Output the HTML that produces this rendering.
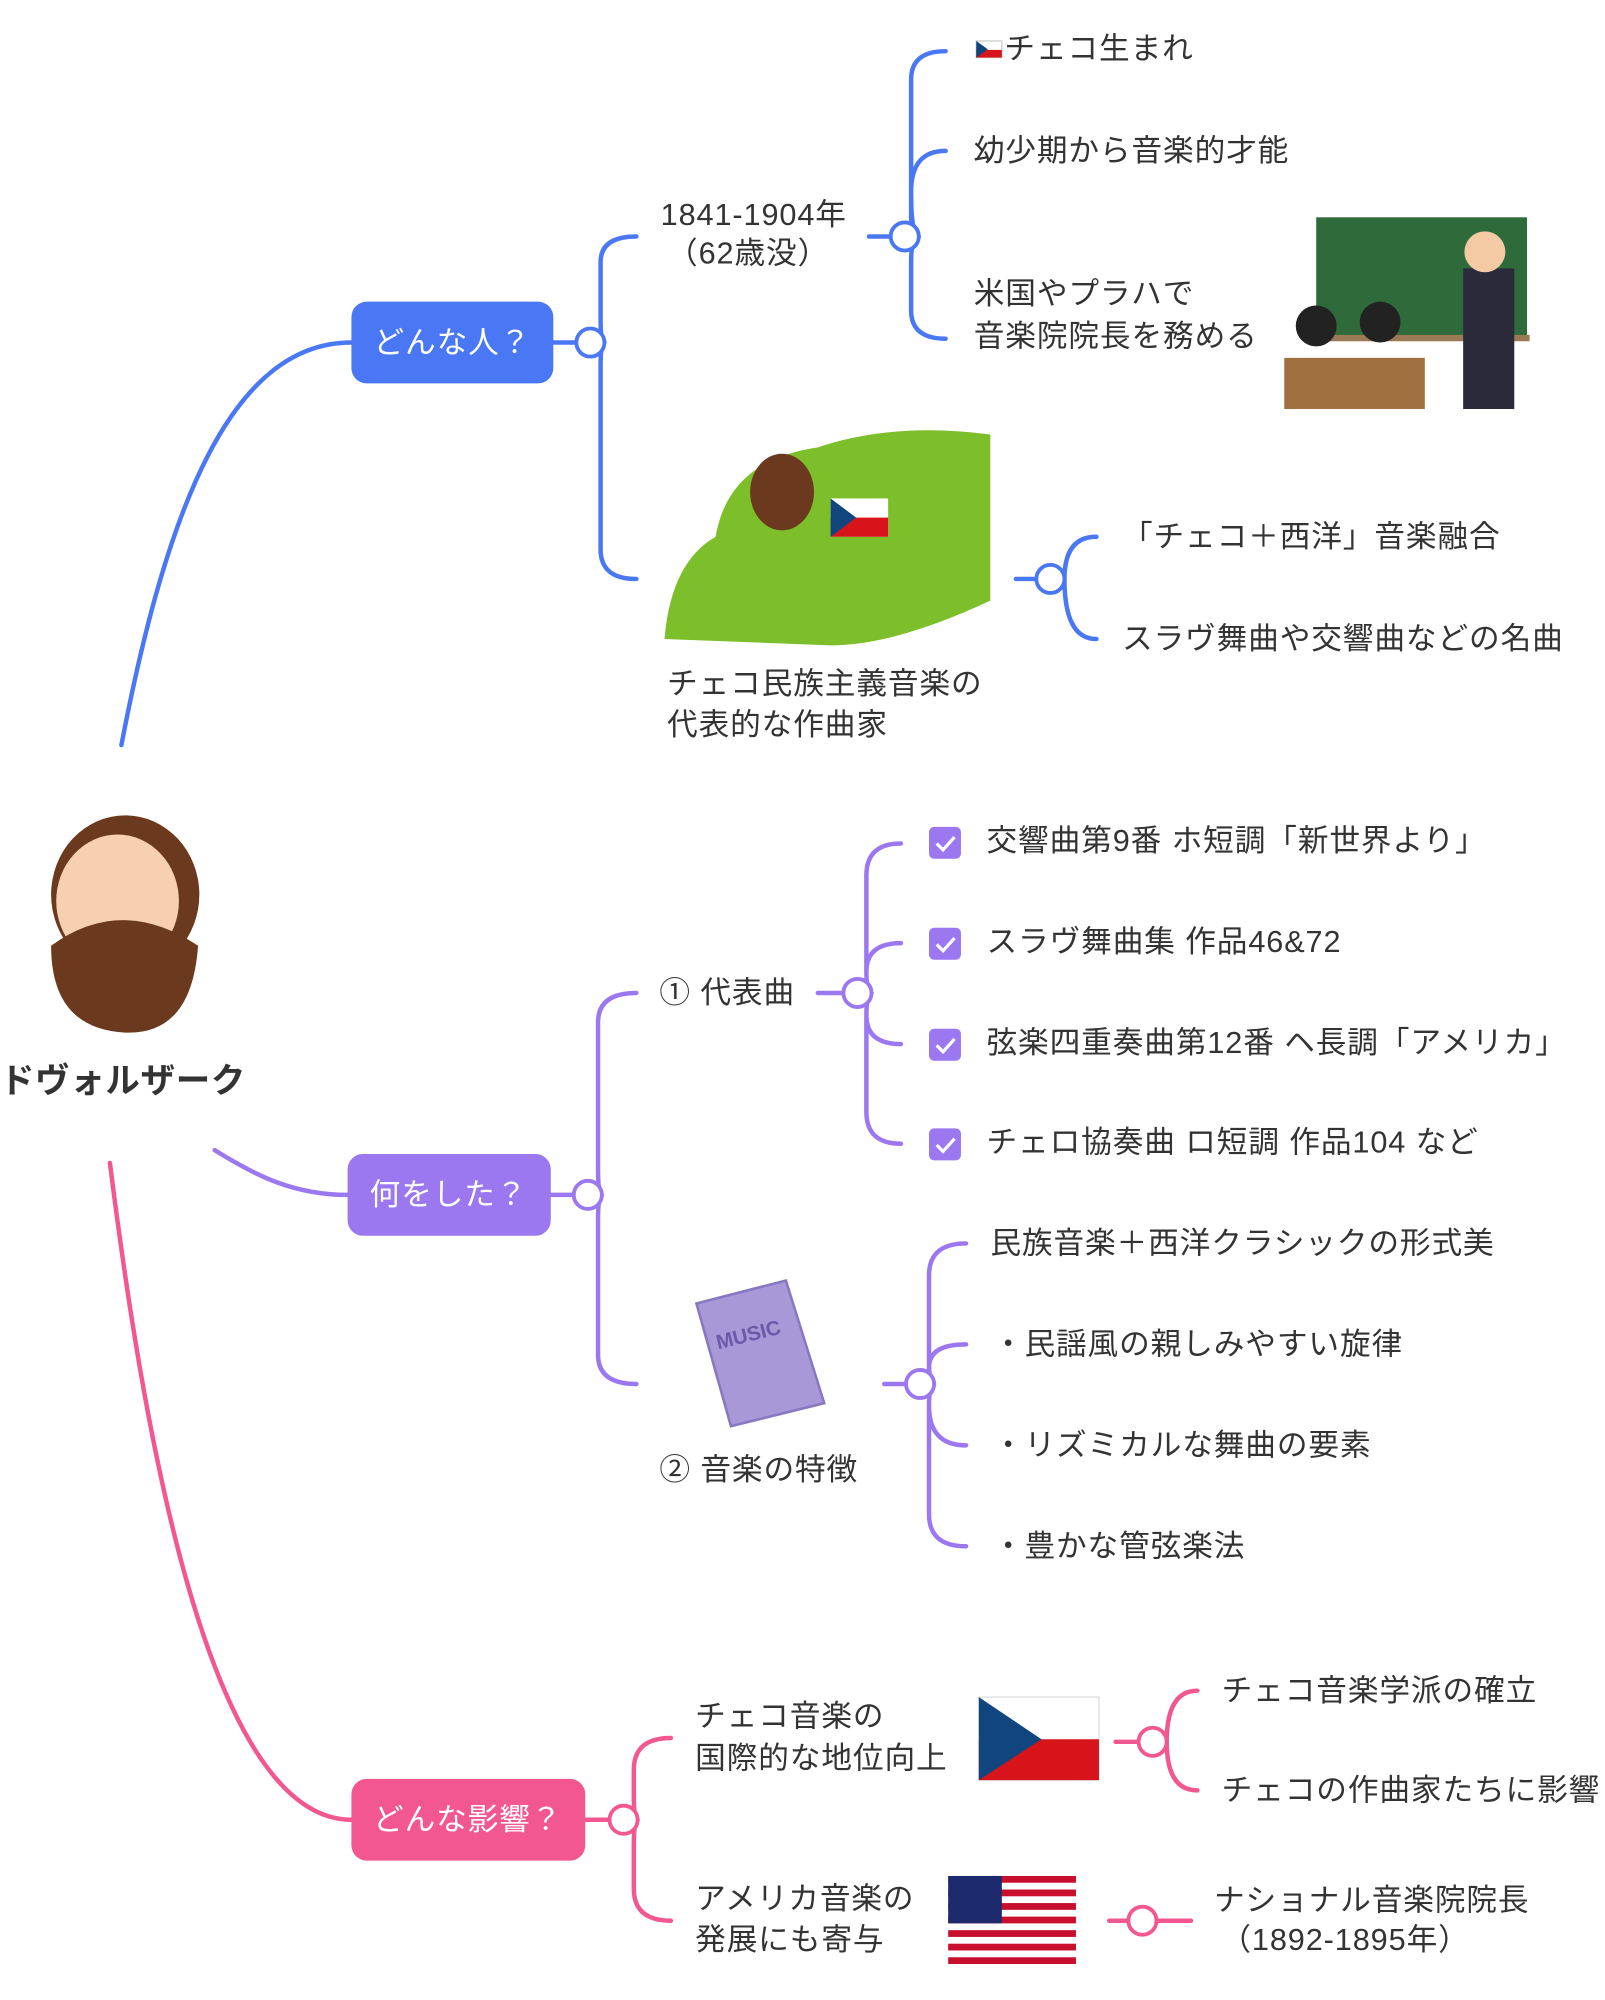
<!DOCTYPE html>
<html><head><meta charset="utf-8"><style>
html,body{margin:0;padding:0;background:#fff;width:1605px;height:2000px;overflow:hidden}
svg text{font-family:"Liberation Sans","Noto Sans CJK JP",sans-serif;font-size:24px;letter-spacing:0.7px;fill:#333}
</style></head><body>
<svg width="1605" height="2000" viewBox="0 0 1256 1565" xmlns="http://www.w3.org/2000/svg">
<g fill="none" stroke-width="3.5" stroke-linecap="round">
<path d="M95 583 C130 400 180 268 275 268" stroke="#4a78f5"/>
<path d="M433 268 H451" stroke="#4a78f5"/>
<path d="M473 268 Q470 268 470 250 L470 205 Q470 185 498 185 M473 268 Q470 268 470 286 L470 430 Q470 453 498 453" stroke="#4a78f5"/>
<path d="M680 185 H697" stroke="#4a78f5"/>
<path d="M719 185 Q713 185 713 170 L713 62 Q713 40 740 40 M719 185 Q713 185 713 150 Q713 118 740 118 M719 185 Q713 185 713 205 L713 243 Q713 265 740 265" stroke="#4a78f5"/>
<path d="M795 453 H811" stroke="#4a78f5"/>
<path d="M833 453 Q833 420 858 420 M833 453 Q833 500 858 500" stroke="#4a78f5"/>
<path d="M168 900 C200 920 230 935 272 935" stroke="#9b77f0"/>
<path d="M431 935 H449" stroke="#9b77f0"/>
<path d="M471 935 Q468 935 468 915 L468 800 Q468 777 498 777 M471 935 Q468 935 468 955 L468 1060 Q468 1083 498 1083" stroke="#9b77f0"/>
<path d="M640 777 H660" stroke="#9b77f0"/>
<path d="M682 777 Q678 777 678 760 L678 685 Q678 660 705 660 M682 777 Q678 777 678 760 Q678 738 705 738 M682 777 Q678 777 678 795 Q678 817 705 817 M682 777 Q678 777 678 795 L678 870 Q678 895 705 895" stroke="#9b77f0"/>
<path d="M692 1083 H709" stroke="#9b77f0"/>
<path d="M731 1083 Q727 1083 727 1065 L727 998 Q727 973 756 973 M731 1083 Q727 1083 727 1070 Q727 1052 756 1052 M731 1083 Q727 1083 727 1100 Q727 1131 756 1131 M731 1083 Q727 1083 727 1100 L727 1185 Q727 1210 756 1210" stroke="#9b77f0"/>
<path d="M86 910 C110 1100 160 1424 275 1424" stroke="#f2578f"/>
<path d="M458 1424 H477" stroke="#f2578f"/>
<path d="M499 1424 Q496 1424 496 1405 L496 1385 Q496 1360 525 1360 M499 1424 Q496 1424 496 1445 L496 1478 Q496 1503 525 1503" stroke="#f2578f"/>
<path d="M873 1363 H891" stroke="#f2578f"/>
<path d="M913 1363 Q913 1323 937 1323 M913 1363 Q913 1401 937 1401" stroke="#f2578f"/>
<path d="M868 1503 H883 M905 1503 H932" stroke="#f2578f"/>
</g>
<g fill="#fff" stroke-width="3">
<circle cx="462" cy="268" r="11" stroke="#4a78f5"/>
<circle cx="708" cy="185" r="11" stroke="#4a78f5"/>
<circle cx="822" cy="453" r="11" stroke="#4a78f5"/>
<circle cx="460" cy="935" r="11" stroke="#9b77f0"/>
<circle cx="671" cy="777" r="11" stroke="#9b77f0"/>
<circle cx="720" cy="1083" r="11" stroke="#9b77f0"/>
<circle cx="488" cy="1424" r="11" stroke="#f2578f"/>
<circle cx="902" cy="1363" r="11" stroke="#f2578f"/>
<circle cx="894" cy="1503" r="11" stroke="#f2578f"/>
</g>
<rect x="275" y="236" width="158" height="64" rx="12" fill="#4a78f5"/>
<text x="354" y="276" text-anchor="middle" style="fill:#fff">どんな人？</text>
<rect x="272" y="903" width="159" height="64" rx="12" fill="#9b77f0"/>
<text x="351" y="943" text-anchor="middle" style="fill:#fff">何をした？</text>
<rect x="275" y="1392" width="183" height="64" rx="12" fill="#f2578f"/>
<text x="366" y="1432" text-anchor="middle" style="fill:#fff">どんな影響？</text>
<ellipse cx="98" cy="700" rx="58" ry="62" fill="#6b3a1e"/>
<ellipse cx="92" cy="705" rx="48" ry="52" fill="#f6d0b0"/>
<path d="M40 740 Q95 700 155 740 Q150 810 98 808 Q40 805 40 740Z" fill="#6b3a1e"/>
<text x="0" y="855" style="font-size:27px;font-weight:bold;letter-spacing:0.5px">ドヴォルザーク</text>
<text x="517" y="176">1841-1904年</text>
<text x="522" y="206">（62歳没）</text>
<rect x="764" y="32" width="20" height="13" fill="#fff" stroke="#ccc"/><rect x="764" y="39" width="20" height="6" fill="#d7141a"/><path d="M764 32 L773 38.5 L764 45Z" fill="#11457e"/>
<text x="786" y="46">チェコ生まれ</text>
<text x="762" y="126">幼少期から音楽的才能</text>
<text x="762" y="238">米国やプラハで</text>
<text x="762" y="271">音楽院院長を務める</text>
<rect x="1030" y="170" width="165" height="95" fill="#2f6b3a"/>
<rect x="1030" y="262" width="167" height="5" fill="#9a7a55"/>
<rect x="1145" y="210" width="40" height="110" fill="#2a2a3a"/><circle cx="1162" cy="197" r="16" fill="#f3caa4"/>
<circle cx="1030" cy="255" r="16" fill="#222"/><circle cx="1080" cy="252" r="16" fill="#222"/>
<rect x="1005" y="280" width="110" height="40" fill="#a07040"/>
<path d="M520 500 Q525 440 560 420 Q570 360 640 350 Q700 330 775 340 L775 470 Q700 505 650 505Z" fill="#7cbf2a"/>
<rect x="650" y="390" width="45" height="30" fill="#fff"/><rect x="650" y="405" width="45" height="15" fill="#d7141a"/><path d="M650 390 L670 405 L650 420Z" fill="#11457e"/>
<ellipse cx="612" cy="385" rx="25" ry="30" fill="#6b3a1e"/>
<text x="522" y="543">チェコ民族主義音楽の</text>
<text x="522" y="575">代表的な作曲家</text>
<text x="878" y="428">「チェコ＋西洋」音楽融合</text>
<text x="878" y="508">スラヴ舞曲や交響曲などの名曲</text>
<text x="516" y="785">① 代表曲</text>
<g fill="#9b77f0"><rect x="727" y="647" width="25" height="25" rx="4"/><rect x="727" y="726" width="25" height="25" rx="4"/><rect x="727" y="805" width="25" height="25" rx="4"/><rect x="727" y="883" width="25" height="25" rx="4"/></g>
<g fill="none" stroke="#fff" stroke-width="2.5"><path d="M733 660 l5 5 l9 -10"/><path d="M733 739 l5 5 l9 -10"/><path d="M733 818 l5 5 l9 -10"/><path d="M733 896 l5 5 l9 -10"/></g>
<text x="772" y="666">交響曲第9番 ホ短調「新世界より」</text>
<text x="772" y="745">スラヴ舞曲集 作品46&amp;72</text>
<text x="772" y="824">弦楽四重奏曲第12番 ヘ長調「アメリカ」</text>
<text x="772" y="902">チェロ協奏曲 ロ短調 作品104 など</text>
<path d="M545 1020 L615 1002 L645 1098 L572 1116Z" fill="#a898d8" stroke="#8878c0" stroke-width="2"/>
<text x="560" y="1050" transform="rotate(-14 585 1045)" style="font-size:16px;font-weight:bold;fill:#6a5aa8;letter-spacing:0">MUSIC</text>
<text x="516" y="1158">② 音楽の特徴</text>
<text x="775" y="981">民族音楽＋西洋クラシックの形式美</text>
<text x="777" y="1060">・民謡風の親しみやすい旋律</text>
<text x="777" y="1139">・リズミカルな舞曲の要素</text>
<text x="777" y="1218">・豊かな管弦楽法</text>
<text x="544" y="1351">チェコ音楽の</text>
<text x="544" y="1384">国際的な地位向上</text>
<rect x="766" y="1328" width="94" height="65" fill="#fff" stroke="#ddd"/><rect x="766" y="1361" width="94" height="32" fill="#d7141a"/><path d="M766 1328 L815 1361 L766 1393Z" fill="#11457e"/>
<text x="956" y="1331">チェコ音楽学派の確立</text>
<text x="956" y="1409">チェコの作曲家たちに影響</text>
<text x="544" y="1494">アメリカ音楽の</text>
<text x="544" y="1526">発展にも寄与</text>
<rect x="742" y="1468" width="100" height="69" fill="#fff"/>
<g fill="#c8102e"><rect x="742" y="1468" width="100" height="5.3"/><rect x="742" y="1478.6" width="100" height="5.3"/><rect x="742" y="1489.2" width="100" height="5.3"/><rect x="742" y="1499.8" width="100" height="5.3"/><rect x="742" y="1510.4" width="100" height="5.3"/><rect x="742" y="1521" width="100" height="5.3"/><rect x="742" y="1531.6" width="100" height="5.3"/></g>
<rect x="742" y="1468" width="42" height="37" fill="#1e2a6e"/>
<text x="950" y="1495">ナショナル音楽院院長</text>
<text x="955" y="1526">（1892-1895年）</text>
</svg>
</body></html>
